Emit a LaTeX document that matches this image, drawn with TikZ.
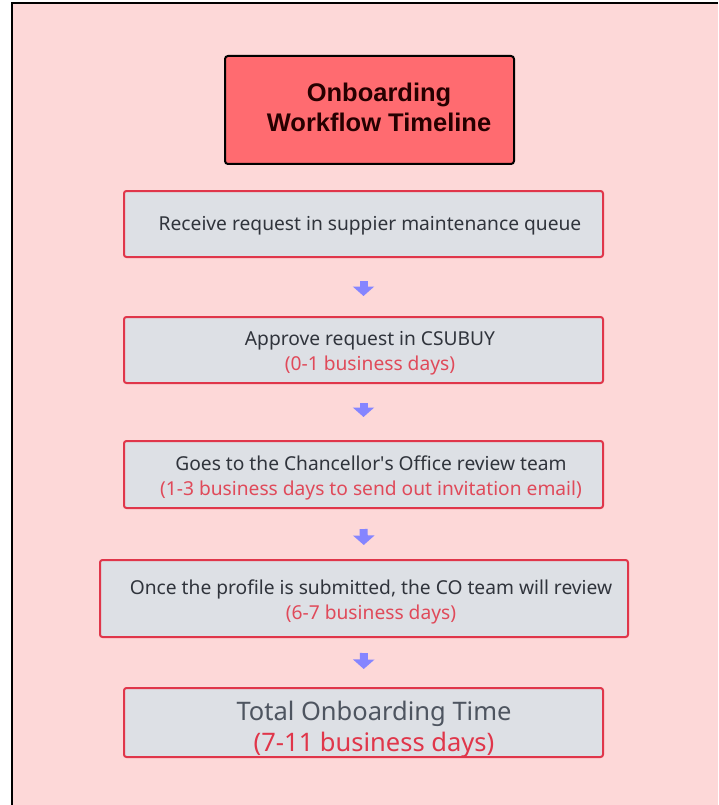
\documentclass[tikz,border=0pt]{standalone}
\usepackage{fontspec}
\setmainfont{Noto Sans}
\newfontfamily\titlefont{Liberation Sans}
\usetikzlibrary{arrows.meta}
\definecolor{bgpink}{HTML}{FDD8D8}
\definecolor{titlered}{HTML}{FF6B70}
\definecolor{boxgrey}{HTML}{DDE0E5}
\definecolor{boxred}{HTML}{E0364A}
\definecolor{txtred}{HTML}{E04A5A}
\definecolor{txtdark}{HTML}{30343C}
\definecolor{txtgrey}{HTML}{4E5560}
\definecolor{arrowblue}{HTML}{8585FF}
\tikzset{
  x=1pt, y=-1pt,
  stepbox/.style={draw=boxred, line width=2pt, fill=boxgrey, rounded corners=2.5pt, inner sep=0pt, minimum height=66pt, minimum width=479pt},
  steptext/.style={align=center, text=txtdark, font=\fontsize{19.2}{24.5}\selectfont, inner sep=0pt},
  blockarrow/.style={draw=arrowblue, line width=8pt, -{Triangle[width=21pt,length=9.5pt]}},
}
\begin{document}
\begin{tikzpicture}
\useasboundingbox (0,0) rectangle (718,805);
\fill[white] (0,0) rectangle (718,805);
\fill[bgpink] (12,3) rectangle (718,805);
\draw[black, line width=2pt] (12,805) -- (12,3) -- (718,3);

% title
\node[draw=black, line width=2pt, fill=titlered, rounded corners=3pt, minimum width=289pt, minimum height=108pt, inner sep=0pt] (title) at (369.5,110) {};
\node[align=center, font=\titlefont\bfseries\fontsize{25.5}{30}\selectfont, text=black!85!red] (titletext) at (379,107) {Onboarding\\Workflow Timeline};

% steps
\node[stepbox] (b1) at (363.5,224) {};
\node[steptext] (t1) at (370,226) {Receive request in suppier maintenance queue};

\node[stepbox] (b2) at (363.5,350) {};
\node[steptext] (t2) at (370,353) {Approve request in CSUBUY\\\textcolor{txtred}{(0-1 business days)}};

\node[stepbox, minimum height=67pt] (b3) at (363.5,474.5) {};
\node[steptext] (t3) at (371,478) {Goes to the Chancellor\textquotesingle s Office review team\\\textcolor{txtred}{(1-3 business days to send out invitation email)}};

\node[stepbox, minimum width=528pt, minimum height=77pt] (b4) at (364,598.5) {};
\node[steptext] (t4) at (371,602) {Once the profile is submitted, the CO team will review\\\textcolor{txtred}{(6-7 business days)}};

\node[stepbox, minimum height=69pt] (b5) at (363.5,722.5) {};
\node[steptext, text=txtgrey, font=\fontsize{25.5}{31}\selectfont] (t5) at (374,729) {Total Onboarding Time\\\textcolor{boxred}{(7-11 business days)}};

% arrows
\draw[blockarrow, shorten <=23pt, shorten >=20pt] (b1) -- (b2);
\draw[blockarrow, shorten <=19pt, shorten >=23pt] (b2) -- (b3);
\draw[blockarrow, shorten <=20pt, shorten >=14pt] (b3) -- (b4);
\draw[blockarrow, shorten <=15pt, shorten >=18pt] (b4) -- (b5);
\end{tikzpicture}
\end{document}
